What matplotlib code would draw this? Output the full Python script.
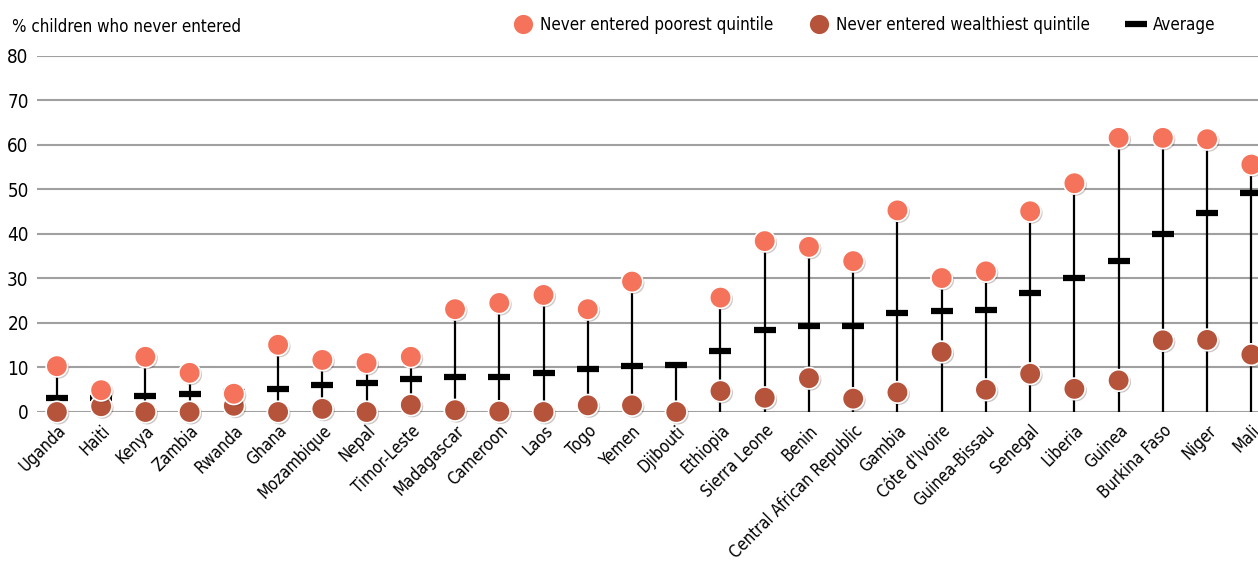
import numpy as np
import matplotlib
matplotlib.use('Agg')
import matplotlib.pyplot as plt
import matplotlib.patheffects as pe
from matplotlib.lines import Line2D

plt.rcParams['font.family'] = ['DejaVu Sans']
plt.rcParams['font.stretch'] = 'condensed'

# Datos
countries = ['Uganda', 'Haiti', 'Kenya', 'Zambia', 'Rwanda', 'Ghana', 'Mozambique',
             'Nepal', 'Timor-Leste', 'Madagascar', 'Cameroon', 'Laos', 'Togo', 'Yemen',
             'Djibouti', 'Ethiopia', 'Sierra Leone', 'Benin', 'Central African Republic',
             'Gambia', "Côte d'Ivoire", 'Guinea-Bissau', 'Senegal', 'Liberia', 'Guinea',
             'Burkina Faso', 'Niger', 'Mali']
poorest = [10.3, 4.9, 12.4, 8.8, 4.1, 15.1, 11.7, 11.0, 12.4, 23.1, 24.5, 26.3, 23.1, 29.3,
           np.nan, 25.7, 38.4, 37.1, 33.9, 45.3, 30.1, 31.6, 45.1, 51.4, 61.6, 61.6, 61.3, 55.6]
wealthiest = [0.0, 1.3, 0.0, 0.0, 1.4, 0.0, 0.7, 0.0, 1.6, 0.4, 0.1, 0.0, 1.5, 1.5,
              0.0, 4.7, 3.2, 7.6, 3.0, 4.4, 13.5, 5.0, 8.6, 5.2, 7.1, 16.1, 16.2, 12.9]
average = [3.1, 3.2, 3.6, 4.1, 4.4, 5.2, 6.1, 6.6, 7.5, 7.9, 7.9, 8.8, 9.7, 10.4,
           10.6, 13.8, 18.4, 19.3, 19.4, 22.3, 22.8, 23.0, 26.8, 30.0, 34.0, 40.1, 44.8, 49.1]

poor_col = '#F4735A'
rich_col = '#B5533B'

fig = plt.figure(figsize=(12.58, 5.65), dpi=100)
ax = fig.add_axes([0.0294, 0.2708, 0.9706, 0.6301])

x = np.arange(len(countries))
p = np.array(poorest)
w = np.array(wealthiest)
a = np.array(average)
top = np.nanmax(np.vstack([p, w, a]), axis=0)

# lineas verticales
ax.vlines(x, 0, top, color='black', lw=1.6, zorder=2)
# promedio
ax.plot(x, a, linestyle='none', marker='_', ms=16.5, mew=4.5, color='black', zorder=3, clip_on=False)

shadow = [pe.SimplePatchShadow(offset=(1.2, -1.2), alpha=0.25), pe.Normal()]
ax.scatter(x, w, s=240, color=rich_col, edgecolor='white', linewidth=1.2, zorder=4,
           clip_on=False, path_effects=shadow)
ax.scatter(x, p, s=240, color=poor_col, edgecolor='white', linewidth=1.2, zorder=5,
           clip_on=False, path_effects=shadow)

ax.set_xlim(-0.45, 27.15)
ax.set_ylim(0, 80)
ax.set_yticks(np.arange(0, 81, 10))
ax.yaxis.grid(True, color='#a0a0a0', lw=1.5)
ax.set_axisbelow(True)
for s in ax.spines.values():
    s.set_visible(False)
ax.tick_params(axis='both', length=0, labelsize=12)
ax.tick_params(axis='y', pad=6, labelsize=13.5)
ax.set_xticks(x)
ax.set_xticklabels(countries, rotation=45, ha='right', va='top', rotation_mode='anchor')
ax.tick_params(axis='x', pad=7)

fig.text(0.0095, 0.952, '% children who never entered', fontsize=12.2, va='center', ha='left')

handles = [
    Line2D([], [], linestyle='none', marker='o', ms=15, color=poor_col, mec='white', mew=1.2),
    Line2D([], [], linestyle='none', marker='o', ms=15, color=rich_col, mec='white', mew=1.2),
    Line2D([], [], linestyle='none', marker='_', ms=16.5, mew=4.5, color='black'),
]
labels = ['Never entered poorest quintile', 'Never entered wealthiest quintile', 'Average']
fig.legend(handles, labels, loc='center right', bbox_to_anchor=(0.978, 0.955), ncol=3,
           frameon=False, fontsize=12.2, handlelength=1.4, handletextpad=0.3, columnspacing=2.0)

fig.savefig('out.png', dpi=100)
